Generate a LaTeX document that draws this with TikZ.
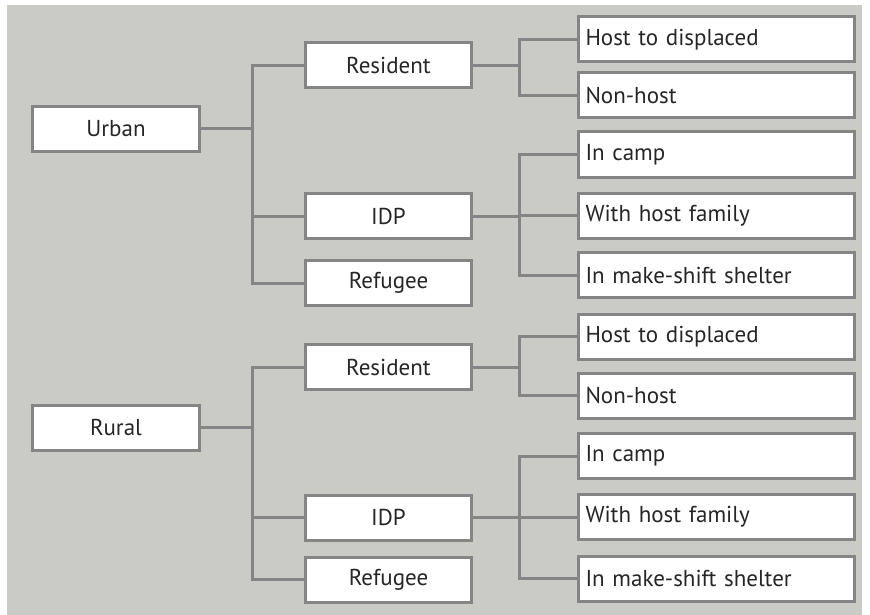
\documentclass[tikz,border=0pt]{standalone}
\usepackage{fontspec}
\setmainfont{PT Sans}
\definecolor{bggray}{HTML}{CACAC6}
\definecolor{edgegray}{HTML}{858585}
\definecolor{txt}{HTML}{262626}
\begin{document}
\begin{tikzpicture}[x=1pt,y=-1pt,
  box/.style={draw=edgegray, line width=3pt, fill=white, text=txt, font=\fontsize{23}{26}\selectfont, minimum height=45pt, inner sep=0pt},
  topbox/.style={box, minimum width=167pt},
  midbox/.style={box, minimum width=166pt},
  leafbox/.style={box, minimum width=276pt, text width=262pt, align=left},
  conn/.style={draw=edgegray, line width=3pt}]
\useasboundingbox (0,0) rectangle (870,615);
\fill[bggray] (7,5) rectangle (862,615);
\coordinate (jl) at (252,0);
\coordinate (jr) at (519,0);
% top level
\node[topbox] (urban) at (116,129) {Urban};
\node[topbox] (rural) at (116,427.5) {Rural};
% middle level
\node[midbox] (ures) at (388.5,65.5) {Resident};
\node[midbox] (uidp) at (388.5,216) {IDP};
\node[midbox] (uref) at (388.5,283) {Refugee};
\node[midbox] (rres) at (388.5,367) {Resident};
\node[midbox] (ridp) at (388.5,517.5) {IDP};
\node[midbox] (rref) at (388.5,579.5) {Refugee};
% leaves
\node[leafbox] (uhd) at (716.5,39.5) {Host to displaced};
\node[leafbox] (unh) at (716.5,95.5) {Non-host};
\node[leafbox] (uic) at (716.5,154.5) {In camp};
\node[leafbox] (uwh) at (716.5,215.5) {With host family};
\node[leafbox] (uim) at (716.5,275) {In make-shift shelter};
\node[leafbox] (rhd) at (716.5,336.5) {Host to displaced};
\node[leafbox] (rnh) at (716.5,395.5) {Non-host};
\node[leafbox] (ric) at (716.5,456) {In camp};
\node[leafbox] (rwh) at (716.5,517) {With host family};
\node[leafbox] (rim) at (716.5,578.5) {In make-shift shelter};
% connectors urban
\draw[conn] (urban.east) -- (urban.east -| jl);
\draw[conn] (urban.east -| jl) |- (ures.west);
\draw[conn] (urban.east -| jl) |- (uidp.west);
\draw[conn] (urban.east -| jl) |- (uref.west);
\draw[conn] (ures.east) -- (ures.east -| jr);
\draw[conn] (ures.east -| jr) |- (uhd.west);
\draw[conn] (ures.east -| jr) |- (unh.west);
\draw[conn] (uidp.east) -- (uidp.east -| jr);
\draw[conn] (uidp.east -| jr) |- (uic.west);
\draw[conn] (uidp.east -| jr) |- (uwh.west);
\draw[conn] (uidp.east -| jr) |- (uim.west);
% connectors rural
\draw[conn] (rural.east) -- (rural.east -| jl);
\draw[conn] (rural.east -| jl) |- (rres.west);
\draw[conn] (rural.east -| jl) |- (ridp.west);
\draw[conn] (rural.east -| jl) |- (rref.west);
\draw[conn] (rres.east) -- (rres.east -| jr);
\draw[conn] (rres.east -| jr) |- (rhd.west);
\draw[conn] (rres.east -| jr) |- (rnh.west);
\draw[conn] (ridp.east) -- (ridp.east -| jr);
\draw[conn] (ridp.east -| jr) |- (ric.west);
\draw[conn] (ridp.east -| jr) |- (rwh.west);
\draw[conn] (ridp.east -| jr) |- (rim.west);
\end{tikzpicture}
\end{document}
